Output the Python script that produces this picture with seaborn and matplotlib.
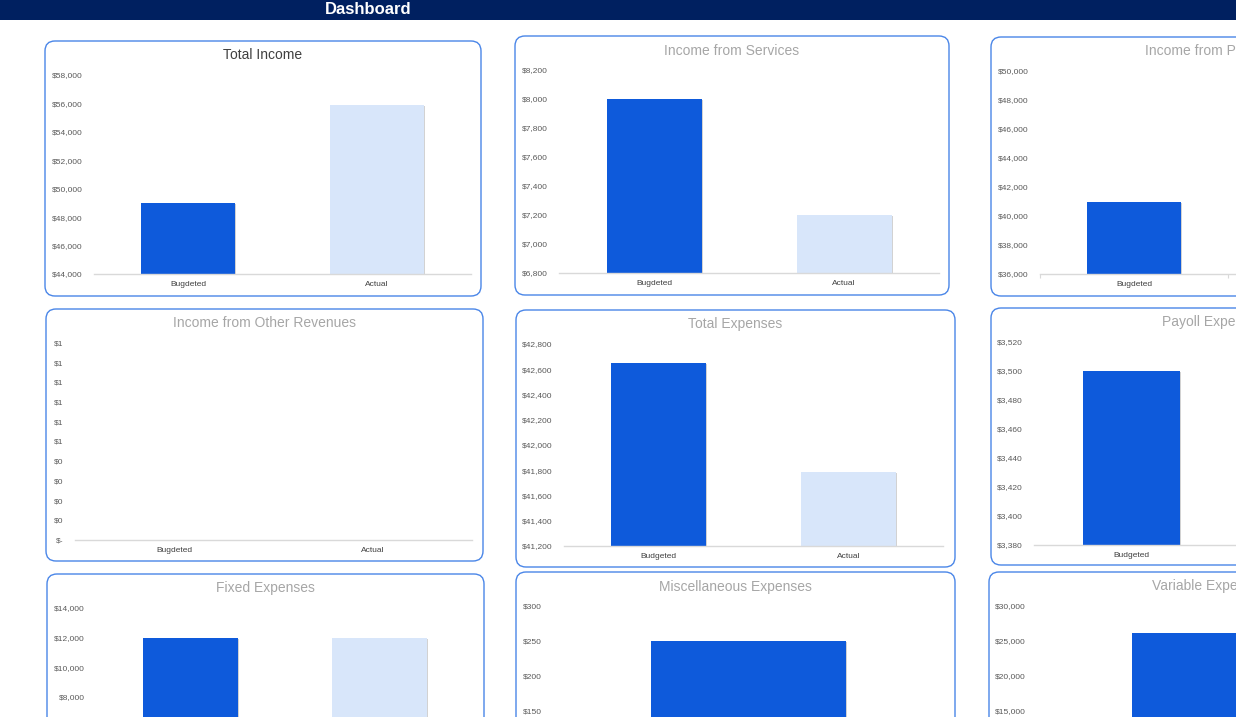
import math
import numpy as np
import matplotlib
matplotlib.use("Agg")
import matplotlib.pyplot as plt
import matplotlib.patheffects as pe
from matplotlib.patches import FancyBboxPatch, Rectangle
from matplotlib.ticker import FuncFormatter, MultipleLocator
import seaborn as sns

# ---------------- data ----------------
income_categories = ["Bugdeted", "Actual"]
expense_categories = ["Budgeted", "Actual"]
single_category = ["Budgeted"]

total_income = [49000, 55900]
income_services = [8000, 7200]
income_products = [41000, 48700]
income_other = [0, 0]
total_expenses = [42650, 41790]
payroll_expenses = [3500, 3450]
fixed_expenses = [12000, 12000]
misc_expenses = [250]
variable_expenses = [26100]

titles = ["Total Income", "Income from Services", "Income from Products",
          "Income from Other Revenues", "Total Expenses", "Payoll Expenses",
          "Fixed Expenses", "Miscellaneous Expenses", "Variable Expenses"]

# ---------------- style ----------------
sns.set_theme(style="white")
plt.rcParams['font.family'] = ['Liberation Sans', 'DejaVu Sans']

W, H = 1236, 717
DARK = "#0E5ADB"
LIGHT = "#D8E6FA"
BORDER = "#4A86E8"

fig = plt.figure(figsize=(W / 100, H / 100), dpi=100)
fig.patch.set_facecolor("white")

bg = fig.add_axes([0, 0, 1, 1])
bg.set_xlim(0, W)
bg.set_ylim(H, 0)
bg.axis("off")

# header
bg.add_patch(Rectangle((0, 0), W, 20, facecolor="#002060", edgecolor="none"))
bg.text(368, 9.5, "Dashboard", color="white", fontsize=12, fontweight="bold",
        ha="center", va="center")


def money(v, pos=None):
    if abs(v) < 1e-9:
        return "$-"
    r = int(math.floor(abs(v) + 0.5 + 1e-9))
    return f"${r:,}"


# panel layout: box (x0, y0, x1, y1), plot (px0, ptop, px1, pbase), title y
panels = [
    dict(title=titles[0], cats=income_categories, vals=total_income, lim=(44000, 58000), step=2000,
         box=(45, 41, 481, 296), plot=(94, 75, 471, 274), ty=55, tcol="#404040"),
    dict(title=titles[1], cats=income_categories, vals=income_services, lim=(6800, 8200), step=200,
         box=(515, 36, 949, 295), plot=(559, 70, 939, 273), ty=51, tcol="#A6A6A6"),
    dict(title=titles[2], cats=income_categories, vals=income_products, lim=(36000, 50000), step=2000,
         box=(991, 37, 1435, 296), plot=(1040, 71, 1416, 274), ty=51, tcol="#A6A6A6", ticks=True),
    dict(title=titles[3], cats=income_categories, vals=income_other, lim=(0, 1), step=0.1,
         box=(46, 309, 483, 561), plot=(75, 343, 472, 540), ty=323, tcol="#A6A6A6"),
    dict(title=titles[4], cats=expense_categories, vals=total_expenses, lim=(41200, 42800), step=200,
         box=(516, 310, 955, 567), plot=(564, 344, 943, 546), ty=324, tcol="#A6A6A6"),
    dict(title=titles[5], cats=expense_categories, vals=payroll_expenses, lim=(3380, 3520), step=20,
         box=(991, 308, 1435, 565), plot=(1034, 342, 1422, 545), ty=322, tcol="#A6A6A6"),
    dict(title=titles[6], cats=expense_categories, vals=fixed_expenses, lim=(0, 14000), step=2000,
         box=(47, 574, 484, 830), plot=(96, 608, 474, 815), ty=588, tcol="#A6A6A6"),
    dict(title=titles[7], cats=single_category, vals=misc_expenses, lim=(0, 300), step=50,
         box=(516, 572, 955, 830), plot=(553, 606, 943, 816), ty=587, tcol="#A6A6A6"),
    dict(title=titles[8], cats=single_category, vals=variable_expenses, lim=(0, 30000), step=5000,
         box=(989, 572, 1429, 830), plot=(1037, 606, 1417, 816), ty=586, tcol="#A6A6A6"),
]

for p in panels:
    x0, y0, x1, y1 = p["box"]
    bg.add_patch(FancyBboxPatch((x0, y0), x1 - x0, y1 - y0,
                                boxstyle="round,pad=0,rounding_size=10",
                                facecolor="white", edgecolor=BORDER, linewidth=1.0))
    bg.text((x0 + x1) / 2, p["ty"], p["title"], color=p["tcol"], fontsize=10,
            ha="center", va="center")

    px0, ptop, px1, pbase = p["plot"]
    ax = fig.add_axes([px0 / W, 1 - pbase / H, (px1 - px0) / W, (pbase - ptop) / H])
    ax.set_facecolor("none")
    cats = p["cats"]
    palette = [DARK, LIGHT][:len(cats)]
    sns.barplot(x=cats, y=p["vals"], hue=cats, palette=palette, order=cats,
                hue_order=cats, legend=False, width=0.5, saturation=1,
                errorbar=None, ax=ax)
    for bar in ax.patches:
        bar.set_linewidth(0)
        bar.set_path_effects([pe.SimplePatchShadow(offset=(0.8, -0.8), shadow_rgbFace="#7F7F7F",
                                                   alpha=0.35), pe.Normal()])
    ax.set_xlim(-0.5, len(cats) - 0.5)
    ax.set_ylim(*p["lim"])
    ax.yaxis.set_major_locator(MultipleLocator(p["step"]))
    ax.yaxis.set_major_formatter(FuncFormatter(money))
    sns.despine(ax=ax, left=True)
    ax.spines["bottom"].set_color("#D9D9D9")
    ax.spines["bottom"].set_linewidth(1.0)
    ax.tick_params(axis="y", length=0, pad=8, labelsize=6, labelcolor="#595959")
    ax.tick_params(axis="x", length=0, pad=5, labelsize=6, labelcolor="#404040")
    if p.get("ticks"):
        ax.set_xticks(np.arange(-0.5, len(cats), 1.0), minor=True)
        ax.tick_params(axis="x", which="minor", length=3, width=0.8, color="#D9D9D9",
                       direction="out", bottom=True)
    ax.set_xlabel("")
    ax.set_ylabel("")
    ax.grid(False)

fig.savefig("out.png", dpi=100, facecolor="white")
